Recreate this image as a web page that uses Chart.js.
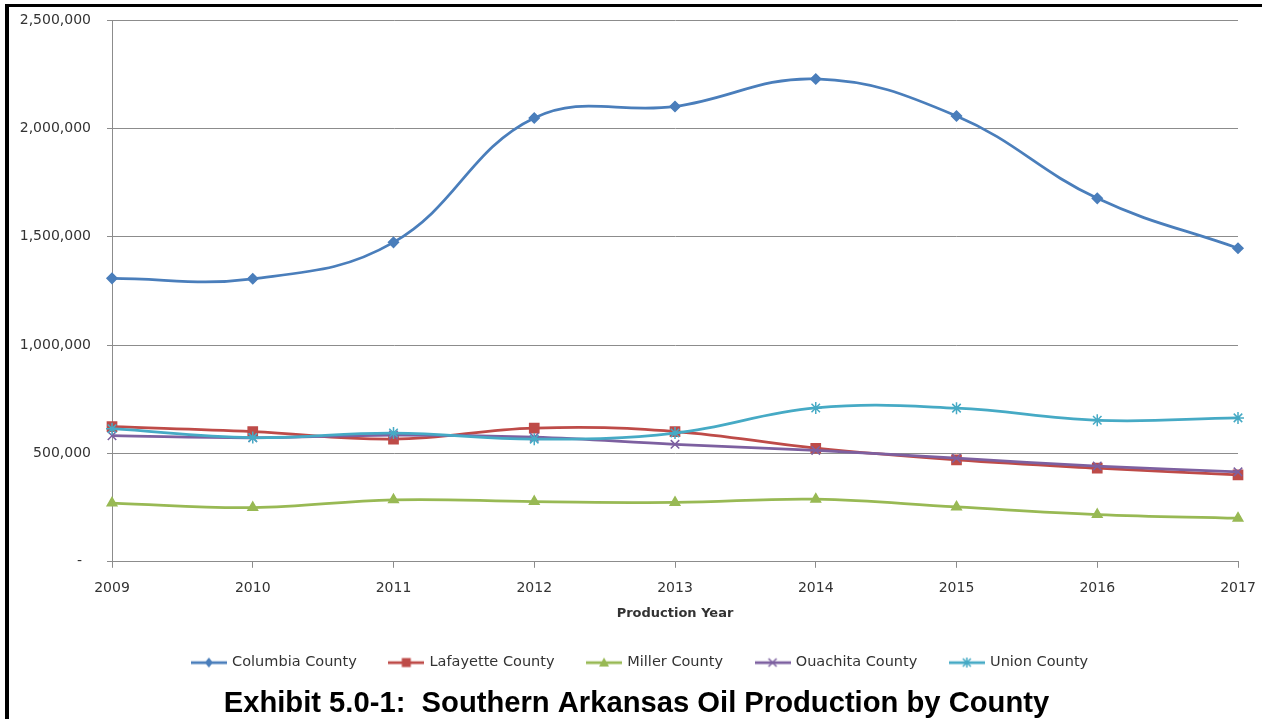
<!DOCTYPE html>
<html>
<head>
<meta charset="utf-8">
<title>Southern Arkansas Oil Production by County</title>
<script src="https://cdn.jsdelivr.net/npm/chart.js@4.4.0/dist/chart.umd.min.js"></script>
<style>
  html, body { margin: 0; padding: 0; background: #fff; }
  #frame {
    position: absolute; left: 5px; top: 4px;
    width: 1257px; height: 715px; box-sizing: border-box;
    border-left: 4px solid #000; border-top: 3px solid #000;
  }
  #wrap { position: relative; width: 1253px; height: 712px; }
</style>
</head>
<body>
<div id="frame"><div id="wrap"><canvas id="oilChart"></canvas></div></div>
<script>
// production years and barrels per county
const years = ['2009', '2010', '2011', '2012', '2013', '2014', '2015', '2016', '2017'];
const columbia  = [1308000, 1306000, 1474000, 2048000, 2101000, 2228000, 2057000, 1677000, 1447000];
const lafayette = [624000, 601000, 566000, 617000, 601000, 524000, 470000, 432000, 401000];
const miller    = [271000, 250000, 286000, 278000, 274000, 289000, 253000, 218000, 201000];
const ouachita  = [582000, 572000, 585000, 575000, 542000, 514000, 478000, 442000, 415000];
const union     = [614000, 573000, 594000, 566000, 594000, 710000, 709000, 653000, 664000];

const yMax = 2500000;
const yStep = 500000;

const gridColor = '#8c8c8c';
const textColor = '#333333';

// small line + marker swatch used in the legend
function legendSwatch(color, style) {
    const c = document.createElement('canvas');
    c.width = 36;
    c.height = 14;
    const ctx = c.getContext('2d');
    const cx = 18, cy = 7;
    ctx.strokeStyle = color;
    ctx.fillStyle = color;
    ctx.lineWidth = 2.75;
    ctx.beginPath();
    ctx.moveTo(0, cy);
    ctx.lineTo(36, cy);
    ctx.stroke();
    ctx.lineWidth = 1.5;
    ctx.beginPath();
    if (style === 'rectRot') {
        ctx.moveTo(cx, cy - 5); ctx.lineTo(cx + 4, cy); ctx.lineTo(cx, cy + 5); ctx.lineTo(cx - 4, cy);
        ctx.closePath(); ctx.fill();
    } else if (style === 'rect') {
        ctx.rect(cx - 4.5, cy - 4.5, 9, 9); ctx.fill();
    } else if (style === 'triangle') {
        ctx.moveTo(cx, cy - 5); ctx.lineTo(cx + 5, cy + 4); ctx.lineTo(cx - 5, cy + 4);
        ctx.closePath(); ctx.fill();
    } else if (style === 'crossRot') {
        ctx.moveTo(cx - 4, cy - 4); ctx.lineTo(cx + 4, cy + 4);
        ctx.moveTo(cx + 4, cy - 4); ctx.lineTo(cx - 4, cy + 4);
        ctx.stroke();
    } else if (style === 'star') {
        ctx.moveTo(cx - 4, cy - 4); ctx.lineTo(cx + 4, cy + 4);
        ctx.moveTo(cx + 4, cy - 4); ctx.lineTo(cx - 4, cy + 4);
        ctx.moveTo(cx, cy - 5); ctx.lineTo(cx, cy + 5);
        ctx.stroke();
    }
    return c;
}

function series(label, data, color, pointStyle, radius, order) {
    return {
        label: label,
        data: data,
        borderColor: color,
        backgroundColor: color,
        pointBackgroundColor: color,
        pointBorderColor: color,
        pointStyle: pointStyle,
        pointRadius: radius,
        pointBorderWidth: 1.5,
        borderWidth: 2.75,
        tension: 0.4,
        order: order,
        swatch: legendSwatch(color, pointStyle)
    };
}

const datasets = [
    series('Columbia County', columbia, '#4A7EBB', 'rectRot', 5, 5),
    series('Lafayette County', lafayette, '#BE4B48', 'rect', 6.5, 4),
    series('Miller County', miller, '#98B954', 'triangle', 5.5, 3),
    series('Ouachita County', ouachita, '#7D60A0', 'crossRot', 6, 2),
    series('Union County', union, '#46AAC5', 'star', 6, 1)
];

// no extra label padding around the axes, the layout below fixes the plot box
function noPadding(scale) {
    scale.paddingTop = 0;
    scale.paddingBottom = 0;
    scale.paddingLeft = 0;
    scale.paddingRight = 0;
}

const canvas = document.getElementById('oilChart');

new Chart(canvas, {
    type: 'line',
    data: {
        labels: years,
        datasets: datasets
    },
    options: {
        responsive: true,
        maintainAspectRatio: false,
        animation: false,
        events: [],
        layout: {
            padding: { top: 13, left: 10, right: 0, bottom: 0 }
        },
        scales: {
            x: {
                offset: false,
                grid: {
                    drawOnChartArea: false,
                    drawTicks: true,
                    tickLength: 6,
                    color: gridColor
                },
                border: { color: gridColor, width: 1 },
                ticks: {
                    color: textColor,
                    padding: 12,
                    maxRotation: 0,
                    font: { family: 'DejaVu Sans', size: 14 }
                },
                title: {
                    display: true,
                    text: 'Production Year',
                    color: textColor,
                    padding: { top: 6, bottom: 0 },
                    font: { family: 'DejaVu Sans', size: 13, weight: 'bold' }
                },
                afterFit: (scale) => { noPadding(scale); scale.height = 60; }
            },
            y: {
                min: 0,
                max: yMax,
                grid: {
                    color: gridColor,
                    tickLength: 5,
                    lineWidth: 1
                },
                border: { color: gridColor, width: 1 },
                ticks: {
                    stepSize: yStep,
                    color: textColor,
                    padding: 16,
                    font: { family: 'DejaVu Sans', size: 14 },
                    callback: (v) => v === 0 ? '-  ' : v.toLocaleString('en-US')
                },
                afterFit: (scale) => { noPadding(scale); scale.width = 93; }
            },
            // keeps a margin at the right of the plot, like the y axis on the left
            spacer: {
                type: 'linear',
                position: 'right',
                display: true,
                grid: { display: false, drawTicks: false },
                border: { display: false },
                ticks: { display: false },
                afterFit: (scale) => { noPadding(scale); scale.width = 24; }
            }
        },
        plugins: {
            legend: {
                position: 'bottom',
                labels: {
                    usePointStyle: true,
                    pointStyleWidth: 32,
                    padding: 33.5,
                    color: textColor,
                    font: { family: 'DejaVu Sans', size: 14.5 },
                    sort: (a, b) => a.datasetIndex - b.datasetIndex,
                    generateLabels: (chart) => {
                        const items = Chart.defaults.plugins.legend.labels.generateLabels(chart);
                        items.forEach((item) => {
                            item.pointStyle = chart.data.datasets[item.datasetIndex].swatch;
                        });
                        return items;
                    }
                }
            },
            title: {
                display: true,
                position: 'bottom',
                // trailing space nudges the centred heading slightly left
                text: 'Exhibit 5.0-1:  Southern Arkansas Oil Production by County ',
                color: '#000',
                padding: { top: 10, bottom: 0 },
                font: { family: 'Liberation Sans', size: 29.2, weight: 'bold', lineHeight: 1.0 }
            },
            tooltip: { enabled: false }
        }
    }
});
</script>
</body>
</html>
